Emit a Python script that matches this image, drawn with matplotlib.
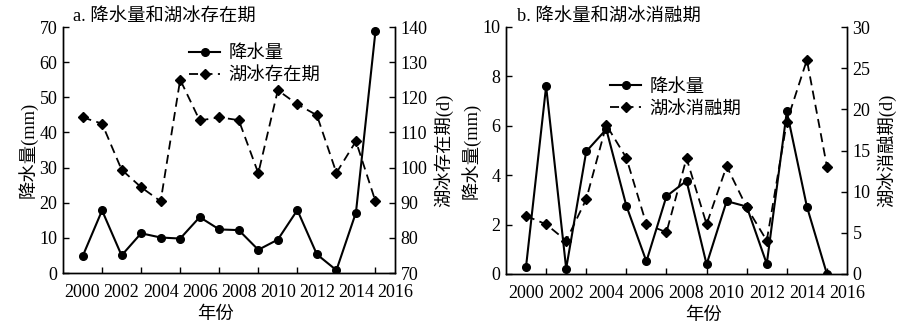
import matplotlib
matplotlib.use("Agg")
import matplotlib.pyplot as plt
from matplotlib.ticker import MultipleLocator, FixedLocator

plt.rcParams['font.family'] = ['Liberation Serif', 'Noto Sans CJK SC']
plt.rcParams['axes.unicode_minus'] = False

years = list(range(2000, 2016))
even_labels = list(range(2000, 2017, 2))

# Panel a
precip_a = [4.7, 17.8, 5.0, 11.3, 10.1, 9.8, 15.9, 12.4, 12.2, 6.6, 9.5, 17.9, 5.3, 0.8, 17.2, 68.8]
ice_exist = [114.3, 112.5, 99.4, 94.4, 90.4, 125.0, 113.4, 114.3, 113.5, 98.4, 122.0, 118.0, 114.9, 98.5, 107.5, 90.4]

# Panel b
precip_b = [0.30, 7.6, 0.22, 4.96, 5.86, 2.76, 0.51, 3.15, 3.77, 0.39, 2.95, 2.73, 0.41, 6.58, 2.73, 0.0]
ice_melt = [7.05, 6.04, 4.05, 9.08, 18.1, 14.1, 6.04, 5.07, 14.07, 6.04, 13.1, 8.1, 4.05, 18.5, 26.0, 13.05]

W, H = 917, 329
fig = plt.figure(figsize=(W / 100, H / 100), dpi=100)

TICK_FS = 13
CN_FS = 13.2


def style_axis(ax, twin):
    ax.set_xlim(1999, 2016)
    ax.xaxis.set_major_locator(FixedLocator(even_labels))
    ax.set_xticklabels([str(y) for y in even_labels])
    ax.xaxis.set_minor_locator(FixedLocator(list(range(2001, 2016, 2))))
    ax.tick_params(axis='x', which='major', length=0, labelsize=TICK_FS, pad=8)
    ax.tick_params(axis='x', which='minor', direction='in', length=4, width=1)
    ax.tick_params(axis='y', which='major', direction='in', length=4, width=1,
                   labelsize=TICK_FS, pad=4)
    twin.tick_params(axis='y', which='major', direction='in', length=4, width=1,
                     labelsize=TICK_FS, pad=4)
    for sp in list(ax.spines.values()) + list(twin.spines.values()):
        sp.set_linewidth(1.0)
    ax.spines['top'].set_visible(False)
    twin.spines['top'].set_visible(False)


def panel(rect, title, title_x, p, ice, p_lim, p_step, i_lim, i_step, ice_label,
          ylab_right, leg_anchor, xlab_x):
    ax = fig.add_axes(rect)
    tw = ax.twinx()
    l1, = ax.plot(years, p, '-', color='black', lw=1.5, marker='o', ms=5.5, label='降水量')
    l2, = tw.plot(years, ice, '--', color='black', lw=1.3, marker='D', ms=5,
                  dashes=(5, 3), label=ice_label)
    ax.set_ylim(*p_lim)
    ax.yaxis.set_major_locator(MultipleLocator(p_step))
    tw.set_ylim(*i_lim)
    tw.yaxis.set_major_locator(MultipleLocator(i_step))
    style_axis(ax, tw)
    ax.set_ylabel('降水量(mm)', fontsize=CN_FS, labelpad=1)
    tw.set_ylabel(ylab_right, fontsize=CN_FS, rotation=90, labelpad=4)
    ax.set_xlabel('年份', fontsize=CN_FS, labelpad=0)
    ax.xaxis.set_label_coords(xlab_x, -0.135)
    fig.text(title_x, 1 - 17 / H, title, fontsize=CN_FS, ha='left', va='center')
    ax.legend(handles=[l1, l2], loc='upper left', bbox_to_anchor=leg_anchor,
              frameon=False, fontsize=CN_FS, handlelength=1.7, handletextpad=0.45,
              borderpad=0, borderaxespad=0, labelspacing=0.25)
    return ax


panel([63 / W, 1 - 273 / H, 332 / W, 246 / H], 'a. 降水量和湖冰存在期', 73 / W,
      precip_a, ice_exist, (0, 70), 10, (70, 140), 10, '湖冰存在期', '湖冰存在期(d)',
      (0.38, 0.925), 0.458)

panel([506 / W, 1 - 274 / H, 341 / W, 247 / H], 'b. 降水量和湖冰消融期', 517 / W,
      precip_b, ice_melt, (0, 10), 2, (0, 30), 5, '湖冰消融期', '湖冰消融期(d)',
      (0.305, 0.79), 0.578)

fig.savefig('out.png', dpi=100)
